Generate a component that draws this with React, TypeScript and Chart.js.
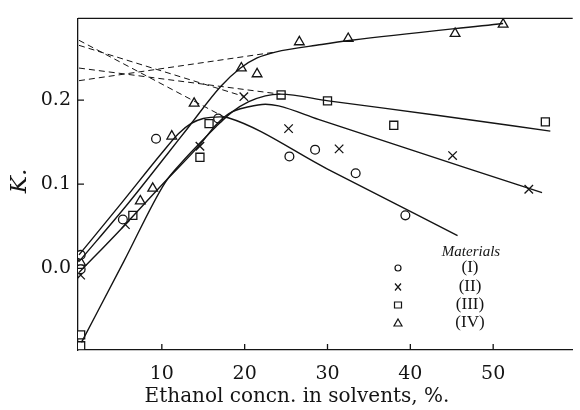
import React, { useEffect, useRef } from "react";
import { Chart, registerables } from "chart.js";

Chart.register(...registerables);

type Pt = [number, number];

// Measured K values against ethanol concentration (%), one array per material
const materialI: Pt[] = [
  [0.2, 0.016], [0.2, -0.001], [5.3, 0.058], [9.3, 0.154], [16.8, 0.178],
  [25.4, 0.133], [28.5, 0.141], [33.4, 0.113], [39.4, 0.063],
];
const materialII: Pt[] = [
  [0.2, -0.008], [5.6, 0.052], [14.6, 0.145], [19.9, 0.204], [25.3, 0.166],
  [31.4, 0.142], [45.1, 0.134], [54.3, 0.094],
];
const materialIII: Pt[] = [
  [0.2, -0.079], [0.2, -0.092], [6.5, 0.063], [14.6, 0.132], [15.7, 0.172],
  [24.4, 0.206], [30.0, 0.199], [38.0, 0.170], [56.3, 0.174],
];
const materialIV: Pt[] = [
  [0.2, 0.007], [7.4, 0.080], [8.9, 0.095], [11.2, 0.157], [13.9, 0.196],
  [19.6, 0.238], [21.5, 0.231], [26.6, 0.269], [32.5, 0.273], [45.4, 0.279],
  [51.2, 0.290],
];

// Smoothed trend curves drawn through each material's points
const curveI: Pt[] = [
  [0, 0.016], [5, 0.076], [10, 0.137], [12, 0.160], [13.5, 0.172], [15, 0.178],
  [17, 0.180], [18, 0.179], [30, 0.118], [45.7, 0.039],
];
const curveII: Pt[] = [
  [0, -0.005], [5, 0.046], [10, 0.099], [14.6, 0.147], [16.5, 0.170], [18.1, 0.184],
  [20.5, 0.192], [22.5, 0.195], [24.1, 0.193], [28.9, 0.177], [55.9, 0.090],
];
const curveIII: Pt[] = [
  [0.3, -0.088], [5.4, 0.008], [10.4, 0.102], [12.5, 0.127], [14.6, 0.149],
  [16.5, 0.168], [18.5, 0.186], [20.5, 0.198], [22.5, 0.205], [24.3, 0.207],
  [30.1, 0.199], [43.2, 0.182], [56.9, 0.163],
];
const curveIV: Pt[] = [
  [0, 0.008], [6, 0.078], [10.6, 0.135], [13, 0.165], [17.1, 0.216], [19.5, 0.238],
  [21.5, 0.250], [23.7, 0.257], [29.3, 0.266], [32.9, 0.271], [51.2, 0.291],
];

// Dashed straight-line extrapolations back to 0 % ethanol
const dashI: Pt[] = [[0, 0.271], [17.5, 0.180]];
const dashII: Pt[] = [[0, 0.265], [20, 0.204]];
const dashIII: Pt[] = [[0, 0.238], [24.3, 0.207]];
const dashIV: Pt[] = [[0, 0.223], [23.7, 0.257]];

const xTicks = [10, 20, 30, 40, 50];
const yTicks = [0, 0.1, 0.2];
const legendLabels = ["(I)", "(II)", "(III)", "(IV)"];
const markerStyles = ["circle", "crossRot", "rect", "triangle"] as const;

const INK = "#141414";
const SERIF = "'DejaVu Serif', 'Liberation Serif', serif";
const SERIF_THIN = "'Liberation Serif', 'DejaVu Serif', serif";

const toXY = (pts: Pt[]) => pts.map(([x, y]) => ({ x, y }));

const curveDataset = (pts: Pt[]) => ({
  type: "line" as const,
  data: toXY(pts),
  borderColor: INK,
  borderWidth: 1.4,
  pointRadius: 0,
  cubicInterpolationMode: "monotone" as const,
  fill: false,
});

const dashDataset = (pts: Pt[]) => ({
  type: "line" as const,
  data: toXY(pts),
  borderColor: INK,
  borderWidth: 1,
  borderDash: [6, 4],
  pointRadius: 0,
  fill: false,
});

const markerDataset = (pts: Pt[], style: string, radius: number) => ({
  type: "scatter" as const,
  data: toXY(pts),
  pointStyle: style,
  pointRadius: radius,
  pointBorderColor: INK,
  pointBackgroundColor: "#ffffff",
  pointBorderWidth: 1.3,
  showLine: false,
});

// Frame, inward tick marks, axis captions and the materials key
const decorPlugin = {
  id: "decor",
  afterDraw(chart: any) {
    const { ctx, chartArea } = chart;
    const { left, right, top, bottom } = chartArea;
    const xs = chart.scales.x;
    const ys = chart.scales.y;
    ctx.save();
    ctx.strokeStyle = INK;
    ctx.lineWidth = 1.3;
    ctx.beginPath();
    ctx.moveTo(left, top);
    ctx.lineTo(right, top);
    for (const v of xTicks) {
      const px = xs.getPixelForValue(v);
      ctx.moveTo(px, bottom);
      ctx.lineTo(px, bottom - 6);
    }
    for (const v of yTicks) {
      const py = ys.getPixelForValue(v);
      ctx.moveTo(left, py);
      ctx.lineTo(left + 6, py);
    }
    ctx.stroke();

    ctx.fillStyle = INK;
    ctx.textAlign = "center";
    ctx.textBaseline = "middle";
    ctx.font = `20px ${SERIF}`;
    ctx.fillText("Ethanol concn. in solvents, %.", 297, 397);

    ctx.save();
    ctx.translate(20, 181);
    ctx.rotate(-Math.PI / 2);
    ctx.font = `italic 23px ${SERIF}`;
    ctx.fillText("K.", 0, 0);
    ctx.restore();

    ctx.font = `italic 15px ${SERIF_THIN}`;
    ctx.fillText("Materials", 471, 252);
    ctx.font = `17px ${SERIF_THIN}`;
    const rowY = [268, 287, 305, 323];
    legendLabels.forEach((label, i) => {
      ctx.fillText(label, 470, rowY[i]);
      const mx = 398;
      const my = rowY[i];
      ctx.beginPath();
      ctx.lineWidth = 1.2;
      const s = markerStyles[i];
      if (s === "circle") {
        ctx.arc(mx, my, 3, 0, Math.PI * 2);
      } else if (s === "crossRot") {
        ctx.moveTo(mx - 3, my - 3.5);
        ctx.lineTo(mx + 3, my + 3.5);
        ctx.moveTo(mx + 3, my - 3.5);
        ctx.lineTo(mx - 3, my + 3.5);
      } else if (s === "rect") {
        ctx.rect(mx - 3.5, my - 3, 7, 6);
      } else {
        ctx.moveTo(mx, my - 4);
        ctx.lineTo(mx + 4, my + 3);
        ctx.lineTo(mx - 4, my + 3);
        ctx.closePath();
      }
      ctx.stroke();
    });
    ctx.restore();
  },
};

export default function App() {
  const canvasRef = useRef<HTMLCanvasElement | null>(null);

  useEffect(() => {
    const canvas = canvasRef.current;
    if (!canvas) return;
    const chart = new Chart(canvas, {
      type: "scatter",
      data: {
        datasets: [
          dashDataset(dashI),
          dashDataset(dashII),
          dashDataset(dashIII),
          dashDataset(dashIV),
          curveDataset(curveI),
          curveDataset(curveII),
          curveDataset(curveIII),
          curveDataset(curveIV),
          markerDataset(materialI, "circle", 4.4),
          markerDataset(materialII, "crossRot", 6),
          markerDataset(materialIII, "rect", 5.7),
          markerDataset(materialIV, "triangle", 5.6),
        ] as any,
      },
      options: {
        animation: false,
        responsive: false,
        maintainAspectRatio: false,
        layout: { padding: { top: 13, right: 0, left: 0, bottom: 0 } },
        plugins: {
          legend: { display: false },
          tooltip: { enabled: false },
        },
        scales: {
          x: {
            type: "linear",
            min: -0.12,
            max: 59.6,
            afterFit: (scale: any) => {
              scale.height = 60;
            },
            afterBuildTicks: (scale: any) => {
              scale.ticks = xTicks.map((v) => ({ value: v }));
            },
            grid: { display: false, drawTicks: false },
            border: { display: true, color: INK, width: 1.3 },
            ticks: {
              padding: 13,
              color: INK,
              font: { family: SERIF, size: 19 },
              callback: (v: any) => String(v),
            },
          },
          y: {
            type: "linear",
            min: -0.097,
            max: 0.297,
            afterFit: (scale: any) => {
              scale.width = 78;
            },
            afterBuildTicks: (scale: any) => {
              scale.ticks = yTicks.map((v) => ({ value: v }));
            },
            grid: { display: false, drawTicks: false },
            border: { display: true, color: INK, width: 1.3 },
            ticks: {
              padding: 7,
              color: INK,
              font: { family: SERIF, size: 19 },
              callback: (v: any) => Number(v).toFixed(1),
            },
          },
        },
      },
      plugins: [decorPlugin],
    });
    return () => chart.destroy();
  }, []);

  return (
    <div style={{ position: "fixed", left: 0, top: 0, width: 580, height: 410, background: "#fff" }}>
      <canvas ref={canvasRef} width={580} height={410} style={{ width: 580, height: 410 }} />
    </div>
  );
}
